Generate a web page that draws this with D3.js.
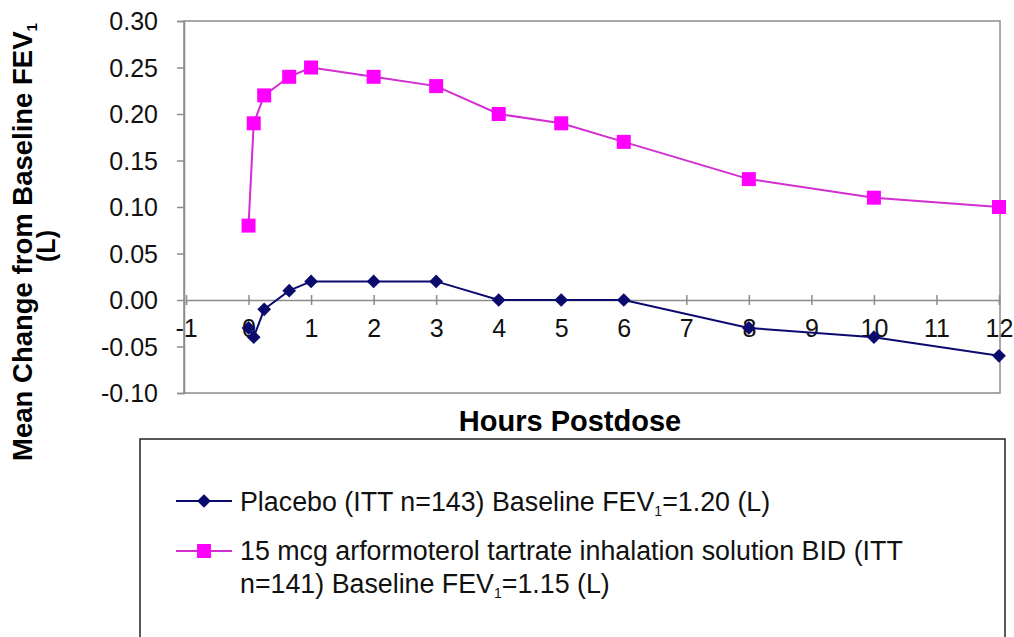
<!DOCTYPE html>
<html>
<head>
<meta charset="utf-8">
<script src="https://cdn.jsdelivr.net/npm/d3@7"></script>
<style>
  body { margin: 0; background: #fff; }
  svg { font-family: "Liberation Sans", Arial, sans-serif; }
</style>
</head>
<body>
<svg id="chart" width="1014" height="637"></svg>
<script>
// hours postdose
var placeboHours = [0, 0.083, 0.25, 0.65, 1, 2, 3, 4, 5, 6, 8, 10, 12];
var placeboValues = [-0.03, -0.04, -0.01, 0.01, 0.02, 0.02, 0.02, 0, 0, 0, -0.03, -0.04, -0.06];
var arfoHours = [0, 0.083, 0.25, 0.65, 1, 2, 3, 4, 5, 6, 8, 10, 12];
var arfoValues = [0.08, 0.19, 0.22, 0.24, 0.25, 0.24, 0.23, 0.20, 0.19, 0.17, 0.13, 0.11, 0.10];
var xTicks = [-1, 0, 1, 2, 3, 4, 5, 6, 7, 8, 9, 10, 11, 12];
var yTicks = [-0.10, -0.05, 0.00, 0.05, 0.10, 0.15, 0.20, 0.25, 0.30];

var svg = d3.select("#chart");

var plotL = 184, plotR = 1000, plotT = 21, plotB = 393;

var x = d3.scaleLinear().domain([-1, 12]).range([186, 999]);
var y = d3.scaleLinear().domain([-0.10, 0.30]).range([plotB, plotT]);

var gray = "#8c8c8c";
var fmtY = function(d) { return d3.format(".2f")(d).replace("\u2212", "-"); };
var fmtX = function(d) { return String(d); };

// plot area border
svg.append("rect")
    .attr("x", plotL).attr("y", plotT)
    .attr("width", plotR - plotL).attr("height", plotB - plotT)
    .attr("fill", "none").attr("stroke", gray).attr("stroke-width", 1.5);

// y axis
var yAxis = svg.append("g")
    .attr("transform", "translate(" + plotL + ",0)")
    .call(d3.axisLeft(y).tickValues(yTicks).tickFormat(fmtY).tickSize(7).tickPadding(19));
yAxis.select(".domain").attr("stroke", gray).attr("stroke-width", 1.5);
yAxis.selectAll(".tick line").attr("stroke", gray).attr("stroke-width", 1.5);
yAxis.selectAll("text").attr("font-size", 25).attr("fill", "#111").attr("dy", "0.35em")
    .attr("font-family", "Liberation Sans, Arial, sans-serif");

// x axis at zero
var xAxis = svg.append("g")
    .attr("transform", "translate(0," + y(0) + ")")
    .call(d3.axisBottom(x).tickValues(xTicks).tickFormat(fmtX).tickSize(5).tickPadding(14));
xAxis.select(".domain").attr("stroke", gray).attr("stroke-width", 1.5);
xAxis.selectAll(".tick line").attr("stroke", gray).attr("stroke-width", 1.5).attr("y1", -5);
xAxis.selectAll("text").attr("font-size", 25).attr("fill", "#111")
    .attr("font-family", "Liberation Sans, Arial, sans-serif");

// axis titles
svg.append("text")
    .attr("x", 570).attr("y", 431)
    .attr("text-anchor", "middle")
    .attr("font-size", 29).attr("font-weight", "bold")
    .text("Hours Postdose");

var yTitle = svg.append("text")
    .attr("transform", "translate(32,242) rotate(-90)")
    .attr("text-anchor", "middle")
    .attr("font-size", 27.5).attr("font-weight", "bold");
yTitle.append("tspan").text("Mean Change from Baseline FEV");
yTitle.append("tspan").attr("font-size", 15).attr("dy", 5).text("1");
svg.append("text")
    .attr("transform", "translate(55,246) rotate(-90)")
    .attr("text-anchor", "middle")
    .attr("font-size", 25).attr("font-weight", "bold")
    .text("(L)");

// series
var line = d3.line()
    .x(function(d) { return x(d[0]); })
    .y(function(d) { return y(d[1]); });

var placebo = d3.zip(placeboHours, placeboValues);
var arfo = d3.zip(arfoHours, arfoValues);

var navy = "#0b0b6e", magenta = "#ff00ff", magLine = "#d22ed2";

svg.append("path").datum(placebo)
    .attr("d", line).attr("fill", "none")
    .attr("stroke", navy).attr("stroke-width", 2);
svg.append("path").datum(arfo)
    .attr("d", line).attr("fill", "none")
    .attr("stroke", magLine).attr("stroke-width", 2);

var diamond = d3.symbol().type(d3.symbolDiamond2).size(120);
svg.selectAll("path.pl").data(placebo).enter().append("path")
    .attr("class", "pl")
    .attr("d", diamond)
    .attr("transform", function(d) { return "translate(" + x(d[0]) + "," + y(d[1]) + ")"; })
    .attr("fill", navy);

svg.selectAll("rect.ar").data(arfo).enter().append("rect")
    .attr("class", "ar")
    .attr("x", function(d) { return x(d[0]) - 7; })
    .attr("y", function(d) { return y(d[1]) - 7; })
    .attr("width", 14).attr("height", 14)
    .attr("fill", magenta);

// legend
svg.append("rect")
    .attr("x", 140).attr("y", 439)
    .attr("width", 865).attr("height", 220)
    .attr("fill", "none").attr("stroke", "#222").attr("stroke-width", 1.5);

function legendText(yy, parts) {
    var t = svg.append("text").attr("x", 240).attr("y", yy)
        .attr("font-size", 26.8).attr("fill", "#111");
    parts.forEach(function(p) {
        if (p.sub) {
            t.append("tspan").attr("font-size", 14).attr("dy", 5).text(p.t);
        } else {
            t.append("tspan").attr("dy", p.back ? -5 : 0).text(p.t);
        }
    });
    return t;
}

svg.append("line").attr("x1", 176).attr("x2", 232).attr("y1", 501).attr("y2", 501)
    .attr("stroke", navy).attr("stroke-width", 2);
svg.append("path").attr("d", diamond)
    .attr("transform", "translate(204,501)").attr("fill", navy);
legendText(511, [{t: "Placebo (ITT n=143) Baseline FEV"}, {t: "1", sub: true}, {t: "=1.20 (L)", back: true}]);

svg.append("line").attr("x1", 176).attr("x2", 232).attr("y1", 551).attr("y2", 551)
    .attr("stroke", magLine).attr("stroke-width", 2);
svg.append("rect").attr("x", 197).attr("y", 544).attr("width", 14).attr("height", 14)
    .attr("fill", magenta);
legendText(560, [{t: "15 mcg arformoterol tartrate inhalation solution BID (ITT"}]);
legendText(593, [{t: "n=141) Baseline FEV"}, {t: "1", sub: true}, {t: "=1.15 (L)", back: true}]);
</script>
</body>
</html>
